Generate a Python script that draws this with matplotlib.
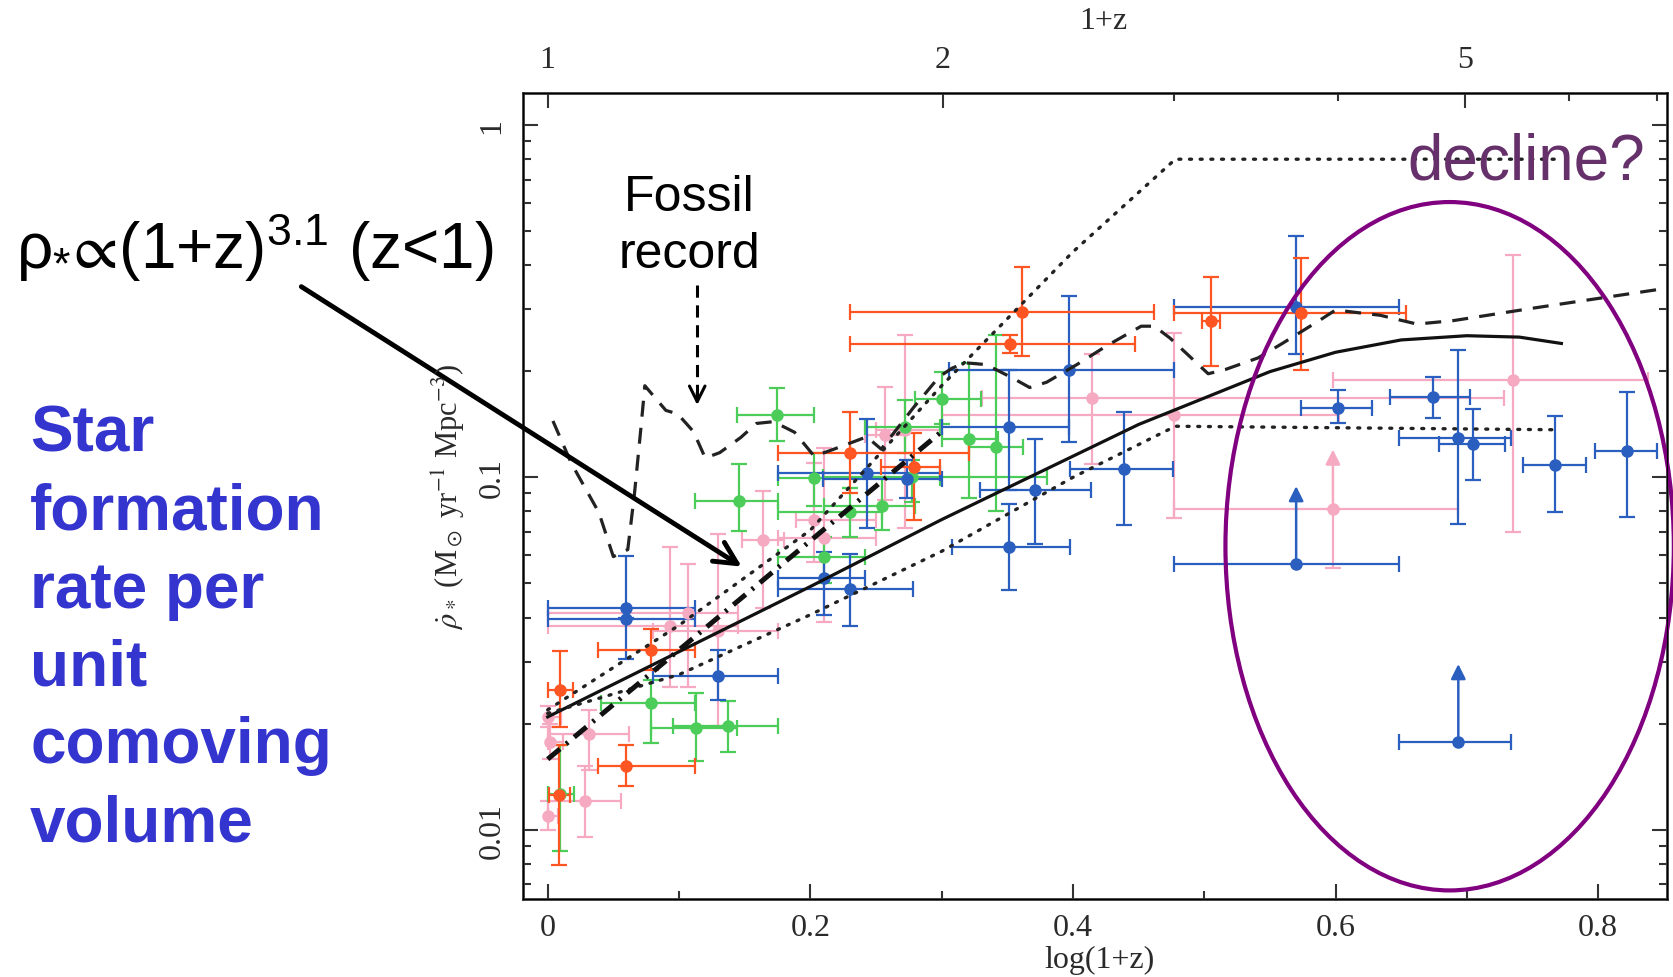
import numpy as np
import matplotlib.pyplot as plt
from matplotlib.patches import Ellipse, FancyArrowPatch

plt.rcParams['mathtext.fontset'] = 'custom'
plt.rcParams['mathtext.rm'] = 'Liberation Sans'
plt.rcParams['mathtext.it'] = 'Liberation Sans'
plt.rcParams['mathtext.fallback'] = 'stixsans'

# x = log(1+z); y values given as log10(SFR density) with lower / upper bounds
# orange points
or_x = [0.0095, 0.0087, 0.0787, 0.0595, 0.230, 0.2787, 0.3613, 0.3518, 0.505, 0.574]
or_xlo = [0.0, 0.001, 0.0385, 0.0385, 0.1754, 0.254, 0.230, 0.230, 0.498, 0.477]
or_xhi = [0.019, 0.017, 0.112, 0.112, 0.321, 0.299, 0.462, 0.447, 0.512, 0.654]
or_y = [-1.603, -1.901, -1.489, -1.820, -0.930, -0.972, -0.531, -0.622, -0.556, -0.534]
or_ylo = [-1.709, -2.10, -1.546, -1.875, -1.045, -1.12, -0.656, -0.647, -0.685, -0.694]
or_yhi = [-1.493, -1.761, -1.431, -1.761, -0.815, -0.875, -0.404, -0.597, -0.431, -0.378]

# blue points
bl_x = [0.0595, 0.0595, 0.1295, 0.2103, 0.230, 0.2428, 0.2736, 0.3517, 0.3973, 0.3517,
        0.371, 0.4388, 0.570, 0.602, 0.674, 0.6935, 0.7044, 0.767, 0.8217]
bl_xlo = [0.0, 0.0, 0.08, 0.1754, 0.1754, 0.1754, 0.21, 0.3005, 0.3056, 0.308,
          0.329, 0.398, 0.477, 0.574, 0.6415, 0.6485, 0.679, 0.743, 0.7976]
bl_xhi = [0.112, 0.112, 0.1754, 0.2415, 0.278, 0.299, 0.30, 0.3972, 0.4767, 0.398,
          0.414, 0.476, 0.6485, 0.628, 0.7024, 0.734, 0.729, 0.791, 0.8445]
bl_y = [-1.371, -1.401, -1.563, -1.286, -1.316, -0.987, -1.005, -0.857, -0.696, -1.198,
        -1.035, -0.975, -0.516, -0.802, -0.773, -0.889, -0.905, -0.965, -0.925]
bl_ylo = [-1.40, -1.516, -1.631, -1.391, -1.421, -1.145, -1.06, -1.035, -0.90, -1.32,
          -1.19, -1.135, -0.65, -0.845, -0.831, -1.133, -1.008, -1.098, -1.114]
bl_yhi = [-1.222, -1.401, -1.491, -1.212, -1.217, -0.835, -0.95, -0.695, -0.486, -1.075,
          -0.89, -0.815, -0.316, -0.751, -0.715, -0.639, -0.807, -0.827, -0.759]

# blue lower limits
bll_x = [0.570, 0.6935]
bll_xlo = [0.477, 0.6485]
bll_xhi = [0.6485, 0.734]
bll_y = [-1.247, -1.752]
bll_top = [-1.025, -1.53]

# pink points
pk_x = [0.0005, 0.002, 0.0005, 0.0313, 0.0287, 0.0928, 0.107, 0.1295, 0.1641, 0.2031,
        0.2103, 0.257, 0.2723, 0.4145, 0.477, 0.735]
pk_xlo = [0.0, 0.0, 0.0, 0.0005, 0.0, 0.0, 0.0, 0.08, 0.148, 0.189,
          0.1754, 0.2415, 0.25, 0.331, 0.3005, 0.598]
pk_xhi = [0.01, 0.012, 0.008, 0.062, 0.0556, 0.145, 0.145, 0.1754, 0.18, 0.25,
          0.25, 0.2723, 0.30, 0.728, 0.603, 0.838]
pk_y = [-1.679, -1.75, -1.96, -1.729, -1.92, -1.421, -1.386, -1.436, -1.177, -1.12,
        -1.172, -0.88, -0.867, -0.776, -0.823, -0.723]
pk_ylo = [-1.71, -1.80, -2.00, -1.83, -2.02, -1.596, -1.596, -1.706, -1.371, -1.24,
          -1.411, -1.065, -1.145, -0.963, -1.115, -1.155]
pk_yhi = [-1.65, -1.70, -1.92, -1.66, -1.82, -1.197, -1.246, -1.16, -1.04, -0.96,
          -0.917, -0.745, -0.596, -0.651, -0.591, -0.368]

# pink lower limit
pkl_x, pkl_xlo, pkl_xhi = [0.598], [0.477], [0.6935]
pkl_y, pkl_top, pkl_ylo = [-1.09], [-0.921], [-1.258]

# green points
gr_x = [0.0095, 0.0787, 0.1133, 0.1377, 0.1454, 0.1749, 0.203, 0.2103, 0.230, 0.2543,
        0.2723, 0.2774, 0.3005, 0.321, 0.3415]
gr_xlo = [0.0, 0.0403, 0.0787, 0.0954, 0.112, 0.144, 0.1754, 0.1754, 0.1754, 0.2103,
          0.2415, 0.21, 0.28, 0.3005, 0.321]
gr_xhi = [0.02, 0.112, 0.144, 0.1754, 0.1754, 0.203, 0.299, 0.2415, 0.2543, 0.28,
          0.299, 0.38, 0.33, 0.343, 0.362]
gr_y = [-1.90, -1.641, -1.711, -1.706, -1.067, -0.822, -1.002, -1.227, -1.097, -1.08,
        -0.857, -1.0, -0.777, -0.89, -0.915]
gr_ylo = [-2.06, -1.755, -1.805, -1.78, -1.152, -0.897, -1.08, -1.30, -1.17, -1.15,
          -0.93, -1.07, -0.85, -1.06, -1.095]
gr_yhi = [-1.76, -1.576, -1.611, -1.636, -0.962, -0.747, -0.93, -1.17, -1.03, -1.0,
          -0.78, -0.95, -0.70, -0.675, -0.596]

# model curves (log10 values)
solid_x = [0.0, 0.1, 0.2, 0.3, 0.35, 0.4, 0.45, 0.5, 0.55, 0.6, 0.65, 0.7, 0.74, 0.772]
solid_y = [-1.68, -1.495, -1.31, -1.12, -1.03, -0.94, -0.85, -0.775, -0.70, -0.645, -0.61,
           -0.598, -0.602, -0.62]
dot_hi_x = [0.0, 0.1, 0.2, 0.3, 0.4, 0.478, 0.77]
dot_hi_y = [-1.66, -1.42, -1.15, -0.74, -0.36, -0.097, -0.097]
dot_lo_x = [0.0, 0.1, 0.2, 0.3, 0.4, 0.478, 0.77]
dot_lo_y = [-1.67, -1.56, -1.39, -1.21, -1.0, -0.855, -0.865]
fit_x = [0.0, 0.301]
fit_y = [-1.80, -0.867]
fossil_x = [0.004, 0.018, 0.039, 0.05, 0.061, 0.066, 0.071, 0.074, 0.09, 0.099, 0.111, 0.12,
            0.131, 0.147, 0.159, 0.172, 0.188, 0.203, 0.218, 0.243, 0.254, 0.279, 0.288,
            0.298, 0.308, 0.318, 0.334, 0.355, 0.367, 0.38, 0.403, 0.426, 0.452, 0.462,
            0.474, 0.493, 0.503, 0.516, 0.541, 0.559, 0.588, 0.60, 0.634, 0.662, 0.69,
            0.75, 0.858]
fossil_y = [-0.84, -0.96, -1.10, -1.225, -1.205, -1.05, -0.86, -0.74, -0.81, -0.82, -0.87,
            -0.945, -0.93, -0.887, -0.847, -0.842, -0.872, -0.94, -0.92, -0.885, -0.92,
            -0.80, -0.76, -0.715, -0.69, -0.675, -0.68, -0.72, -0.745, -0.73, -0.68,
            -0.626, -0.571, -0.571, -0.605, -0.671, -0.706, -0.694, -0.661, -0.621,
            -0.554, -0.525, -0.54, -0.565, -0.555, -0.52, -0.46]

c_orange = '#ff5522'
c_blue = '#2a5fbf'
c_green = '#4ccd5a'
c_pink = '#f6aac2'

fig = plt.figure(figsize=(16.74, 9.78), dpi=100)
ax = fig.add_axes([0.3125, 0.0797, 0.6833, 0.8242])


def points(xs, xlo, xhi, ly, lylo, lyhi, color):
    x = np.array(xs)
    y = 10 ** np.array(ly)
    xerr = [x - np.array(xlo), np.array(xhi) - x]
    yerr = [y - 10 ** np.array(lylo), 10 ** np.array(lyhi) - y]
    ax.errorbar(x, y, xerr=xerr, yerr=yerr, fmt='o', color=color, ms=8,
                elinewidth=1.6, capsize=6, capthick=1.6, zorder=2)


def limits(xs, xlo, xhi, ly, top, color, ylo=None):
    x = np.array(xs)
    y = 10 ** np.array(ly)
    yerr = None
    if ylo is not None:
        yerr = [y - 10 ** np.array(ylo), np.zeros_like(y)]
    ax.errorbar(x, y, xerr=[x - np.array(xlo), np.array(xhi) - x], yerr=yerr,
                fmt='o', color=color, ms=8, elinewidth=1.6, capsize=6,
                capthick=1.6, zorder=2)
    for xi, yi, ti in zip(x, y, top):
        ax.annotate('', xy=(xi, 10 ** ti), xytext=(xi, yi), zorder=2,
                    arrowprops=dict(arrowstyle='-|>', color=color, lw=1.8,
                                    mutation_scale=22, shrinkA=0, shrinkB=0))


points(pk_x, pk_xlo, pk_xhi, pk_y, pk_ylo, pk_yhi, c_pink)
limits(pkl_x, pkl_xlo, pkl_xhi, pkl_y, pkl_top, c_pink, ylo=pkl_ylo)
points(gr_x, gr_xlo, gr_xhi, gr_y, gr_ylo, gr_yhi, c_green)
points(bl_x, bl_xlo, bl_xhi, bl_y, bl_ylo, bl_yhi, c_blue)
limits(bll_x, bll_xlo, bll_xhi, bll_y, bll_top, c_blue)
points(or_x, or_xlo, or_xhi, or_y, or_ylo, or_yhi, c_orange)

ax.plot(solid_x, 10 ** np.array(solid_y), color='#111111', lw=2.3, zorder=3)
ax.plot(dot_hi_x, 10 ** np.array(dot_hi_y), color='#222222', lw=2.4,
        linestyle=(0, (0.6, 2.6)), dash_capstyle='round', zorder=3)
ax.plot(dot_lo_x, 10 ** np.array(dot_lo_y), color='#222222', lw=2.4,
        linestyle=(0, (0.6, 2.6)), dash_capstyle='round', zorder=3)
ax.plot(fit_x, 10 ** np.array(fit_y), color='#111111', lw=3.6,
        linestyle=(0, (3.2, 1.6, 0.5, 1.6)), zorder=3)
ax.plot(fossil_x, 10 ** np.array(fossil_y), color='#222222', lw=2.3,
        linestyle=(0, (5, 3.5)), zorder=3)

ax.set_yscale('log')
ax.set_xlim(-0.0187, 0.8524)
ax.set_ylim(0.006353, 1.233)

tick_font = dict(family='Liberation Serif', size=23, color='#2a2a2a')
ax.set_xticks([0, 0.2, 0.4, 0.6, 0.8])
ax.set_xticklabels(['0', '0.2', '0.4', '0.6', '0.8'], **tick_font)
ax.set_xticks(np.arange(0.1, 0.85, 0.2), minor=True)
ax.set_yticks([0.01, 0.1, 1])
ax.set_yticklabels(['0.01', '0.1', '1'], rotation=90, va='center', **tick_font)
ax.tick_params(which='both', direction='in', right=True, top=False,
               color='#333333', width=1.5)
ax.tick_params(which='major', length=11)
ax.tick_params(which='minor', length=6)
ax.tick_params(axis='x', pad=10)
ax.tick_params(axis='y', pad=12)
for s in ax.spines.values():
    s.set_linewidth(2)
    s.set_color('#3a3a3a')

ax2 = ax.twiny()
ax2.set_xlim(ax.get_xlim())
ax2.set_xticks(np.log10([1, 2, 5]))
ax2.set_xticklabels(['1', '2', '5'], **tick_font)
ax2.set_xticks(np.log10([3, 4, 6, 7]), minor=True)
ax2.tick_params(which='both', direction='in', color='#333333', width=1.5, pad=14)
ax2.tick_params(which='major', length=11)
ax2.tick_params(which='minor', length=6)

fig.text(0.6588, 0.978, '1+z', ha='center', va='center', family='Liberation Serif',
         size=23, color='#2a2a2a')
fig.text(0.657, 0.018, 'log(1+z)', ha='center', va='center', family='Liberation Serif',
         size=23, color='#2a2a2a')
fig.text(0.268, 0.492, r'$\dot{\rho}_*$ (M$_\odot$ yr$^{-1}$ Mpc$^{-3}$)', rotation=90,
         ha='center', va='center', family='Liberation Serif', math_fontfamily='stix',
         size=22, color='#2a2a2a')

# annotations
fig.text(0.412, 0.768, 'Fossil\nrecord', ha='center', va='center',
         family='Liberation Sans', size=36, linespacing=1.3)
fig.lines.append(plt.Line2D([0.4165, 0.4165], [0.708, 0.59], transform=fig.transFigure,
                            color='black', lw=2.2, linestyle=(0, (4, 2.5))))
fig.patches.append(FancyArrowPatch(
    (0.4165, 0.60), (0.4165, 0.582), transform=fig.transFigure, arrowstyle='->',
    mutation_scale=28, color='black', lw=2.2))

fig.text(0.0096, 0.7249, r'$\rho_{*}\!\propto\!$' + '(1+z)' + r'$^{3.1}$' + ' (z<1)',
         ha='left', va='baseline', size=46, family='Liberation Sans',
         math_fontfamily='custom')
fig.patches.append(FancyArrowPatch(
    (0.1786, 0.7074), (0.4445, 0.4181), transform=fig.transFigure, arrowstyle='->',
    mutation_scale=40, color='black', lw=3.5))

fig.text(0.018, 0.586, 'Star\nformation\nrate per\nunit\ncomoving\nvolume', ha='left',
         va='top', family='Liberation Sans', weight='bold', size=46, color='#3434cf',
         linespacing=1.38)

fig.text(0.8406, 0.8166, 'decline?', ha='left', va='baseline', family='Liberation Sans',
         size=46, color='#66306a')

ell = Ellipse((0.810, 0.4377), 0.392, 0.854, transform=ax.transAxes, fill=False,
              edgecolor='#800080', lw=3, clip_on=False, zorder=5)
ax.add_patch(ell)

fig.savefig('out.png', dpi=100)
